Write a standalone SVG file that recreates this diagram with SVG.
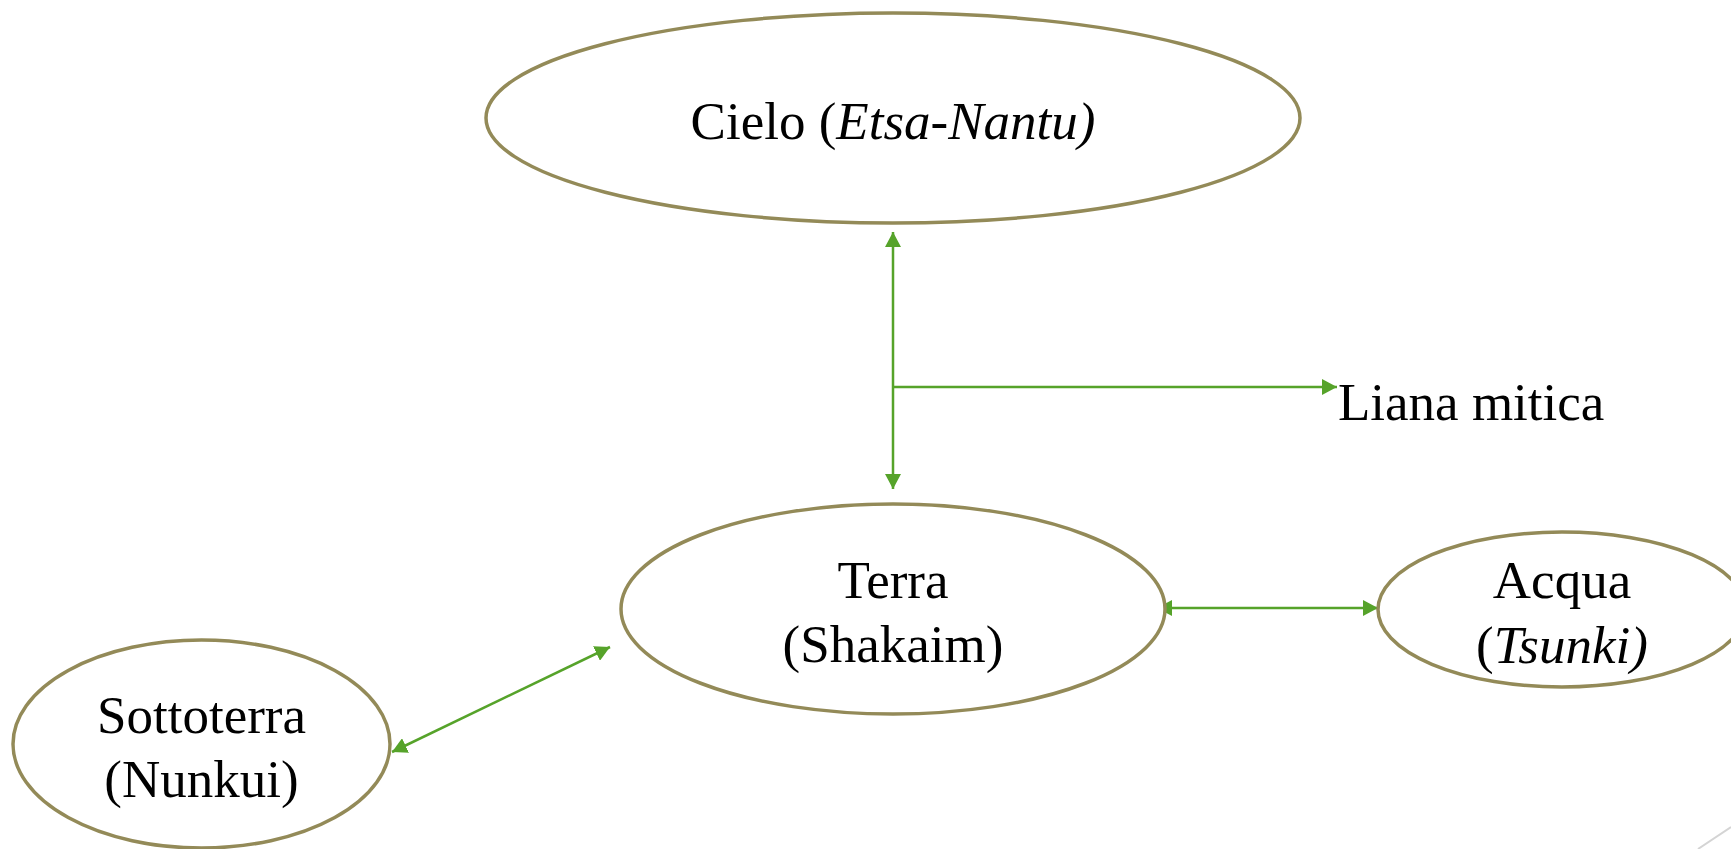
<svg xmlns="http://www.w3.org/2000/svg" width="1731" height="849" viewBox="0 0 1731 849">
<style>
.node{fill:#ffffff;stroke:#938a58;stroke-width:3.5}
.lbl{font-family:"Liberation Serif","Times New Roman",serif;font-size:53px;fill:#000000;text-anchor:middle}
.it{font-style:italic}
.conn{stroke:#56a32a;stroke-width:2.5;fill:none}
</style>
<defs>
<marker id="ah" markerUnits="userSpaceOnUse" markerWidth="16" markerHeight="16" refX="15" refY="8" orient="auto-start-reverse" viewBox="0 0 16 16">
<path d="M0,0 L15,8 L0,16 z" fill="#56a32a"/>
</marker>
</defs>
<rect width="1731" height="849" fill="#ffffff"/>
<line x1="1698" y1="849" x2="1731" y2="827" stroke="#d4d4d4" stroke-width="2"/>
<g id="connectors">
<line class="conn" x1="893" y1="232" x2="893" y2="489" marker-start="url(#ah)" marker-end="url(#ah)"/>
<line class="conn" x1="893" y1="387" x2="1337" y2="387" marker-end="url(#ah)"/>
<line class="conn" x1="1157" y1="608" x2="1378" y2="608" marker-start="url(#ah)" marker-end="url(#ah)"/>
<line class="conn" x1="392" y1="752" x2="610" y2="647" marker-start="url(#ah)" marker-end="url(#ah)"/>
</g>
<g id="cielo">
<ellipse class="node" cx="893" cy="118" rx="407" ry="105"/>
<text class="lbl" x="893" y="139">Cielo (<tspan class="it">Etsa-Nantu)</tspan></text>
</g>
<g id="liana">
<text class="lbl" x="1338" y="420" style="text-anchor:start">Liana mitica</text>
</g>
<g id="terra">
<ellipse class="node" cx="893" cy="609" rx="272" ry="105"/>
<text class="lbl" x="893" y="598">Terra</text>
<text class="lbl" x="893" y="662">(Shakaim)</text>
</g>
<g id="acqua">
<ellipse class="node" cx="1562" cy="609.5" rx="184" ry="77.5"/>
<text class="lbl" x="1562" y="598">Acqua</text>
<text class="lbl" x="1562" y="663">(<tspan class="it">Tsunki)</tspan></text>
</g>
<g id="sottoterra">
<ellipse class="node" cx="201.5" cy="744" rx="188.5" ry="104"/>
<text class="lbl" x="201.5" y="733">Sottoterra</text>
<text class="lbl" x="201.5" y="797">(Nunkui)</text>
</g>
</svg>
